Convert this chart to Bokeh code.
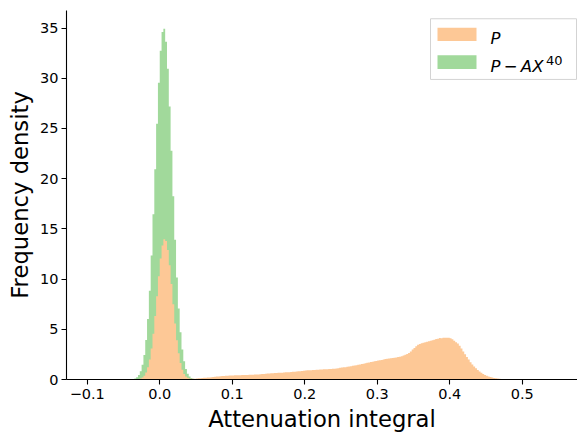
from bokeh.plotting import figure
from bokeh.models import Range1d, FixedTicker, CustomJSTickFormatter
from bokeh.core.properties import value
from bokeh.embed import file_html
from bokeh.resources import INLINE

# Histogram bins (shared width) and first left edge of each series
BIN_WIDTH = 0.0025
P_FIRST_EDGE = -0.035
PAX_FIRST_EDGE = -0.045

# Frequency density of P, one value per bin
p_density = [
    0.01, 0.02, 0.04, 0.09, 0.19, 0.38, 0.69, 1.21, 1.99, 3.09,
    4.55, 6.32, 8.29, 10.28, 12.05, 13.34, 13.97, 13.80, 12.90, 11.39,
    9.50, 7.49, 5.58, 3.92, 2.61, 1.64, 0.97, 0.56, 0.30, 0.17,
    0.10, 0.07, 0.07, 0.08, 0.10, 0.12, 0.13, 0.15, 0.17, 0.18,
    0.20, 0.21, 0.23, 0.25, 0.27, 0.29, 0.31, 0.32, 0.34, 0.36,
    0.37, 0.38, 0.39, 0.40, 0.41, 0.42, 0.42, 0.43, 0.43, 0.44,
    0.45, 0.45, 0.46, 0.47, 0.48, 0.48, 0.49, 0.50, 0.51, 0.53,
    0.55, 0.56, 0.58, 0.60, 0.61, 0.62, 0.63, 0.64, 0.65, 0.66,
    0.67, 0.68, 0.69, 0.71, 0.72, 0.73, 0.74, 0.76, 0.77, 0.79,
    0.81, 0.83, 0.85, 0.88, 0.89, 0.91, 0.92, 0.93, 0.94, 0.95,
    0.96, 0.98, 0.99, 1.00, 1.01, 1.02, 1.03, 1.04, 1.05, 1.06,
    1.08, 1.10, 1.13, 1.16, 1.19, 1.21, 1.23, 1.26, 1.29, 1.32,
    1.36, 1.40, 1.43, 1.46, 1.50, 1.54, 1.58, 1.62, 1.66, 1.70,
    1.74, 1.78, 1.81, 1.85, 1.89, 1.92, 1.95, 1.99, 2.03, 2.06,
    2.09, 2.11, 2.14, 2.17, 2.20, 2.23, 2.27, 2.32, 2.38, 2.46,
    2.54, 2.64, 2.80, 2.98, 3.14, 3.30, 3.45, 3.53, 3.60, 3.66,
    3.71, 3.76, 3.82, 3.87, 3.92, 3.97, 4.03, 4.06, 4.14, 4.10,
    4.16, 4.17, 4.16, 4.15, 4.12, 4.00, 3.86, 3.72, 3.58, 3.35,
    3.08, 2.80, 2.52, 2.25, 1.98, 1.72, 1.50, 1.30, 1.11, 0.95,
    0.80, 0.67, 0.55, 0.45, 0.37, 0.30, 0.24, 0.19, 0.15, 0.12,
    0.09, 0.07, 0.05, 0.04, 0.03, 0.02,
]

# Frequency density of P - AX^40, one value per bin
pax_density = [
    0.004, 0.01, 0.024, 0.054, 0.11, 0.23, 0.45, 0.83, 1.46, 2.45,
    3.93, 6.03, 8.83, 12.34, 16.47, 20.95, 25.47, 29.55, 32.73, 34.60,
    34.93, 33.65, 30.95, 27.18, 22.78, 18.24, 13.92, 10.15, 7.07, 4.70,
    2.98, 1.81, 1.04, 0.58, 0.30, 0.15, 0.07, 0.03,
]

x_ticks = [-0.1, 0.0, 0.1, 0.2, 0.3, 0.4, 0.5]
y_ticks = [0, 5, 10, 15, 20, 25, 30, 35]

P_COLOR = "#fdc896"
PAX_COLOR = "#a1d99b"
FONT = "DejaVu Sans"

# Canvas / frame geometry (pixels)
WIDTH, HEIGHT = 577, 434
BORDER_LEFT, BORDER_RIGHT, BORDER_TOP, BORDER_BOTTOM = 66, 0, 10, 53
X_START, X_END = -0.1286, 0.5762
Y_START, Y_END = 0.0, 36.75


def step_outline(first_edge, heights):
    """Outline of a histogram as one closed polygon (bars share their sides)."""
    xs, ys = [first_edge], [0.0]
    for i, h in enumerate(heights):
        left = first_edge + BIN_WIDTH * i
        right = first_edge + BIN_WIDTH * (i + 1)
        xs += [left, right]
        ys += [h, h]
    xs.append(first_edge + BIN_WIDTH * len(heights))
    ys.append(0.0)
    return xs, ys


def cx(px):
    """Canvas pixel column -> data x."""
    fw = WIDTH - BORDER_LEFT - BORDER_RIGHT
    return X_START + (px - BORDER_LEFT) * (X_END - X_START) / fw


def cy(py):
    """Canvas pixel row (from the top) -> data y."""
    fh = HEIGHT - BORDER_TOP - BORDER_BOTTOM
    return Y_START + (HEIGHT - BORDER_BOTTOM - py) * (Y_END - Y_START) / fh


p = figure(width=WIDTH, height=HEIGHT, output_backend="svg", toolbar_location=None,
           x_range=Range1d(X_START, X_END), y_range=Range1d(Y_START, Y_END),
           min_border_left=BORDER_LEFT, min_border_right=BORDER_RIGHT,
           min_border_top=BORDER_TOP, min_border_bottom=BORDER_BOTTOM)
p.background_fill_color = "white"
p.border_fill_color = "white"
p.outline_line_color = None
p.xgrid.visible = False
p.ygrid.visible = False

pax_xs, pax_ys = step_outline(PAX_FIRST_EDGE, pax_density)
p.patch(x=pax_xs, y=pax_ys, fill_color=PAX_COLOR, line_color=None)
p_xs, p_ys = step_outline(P_FIRST_EDGE, p_density)
p.patch(x=p_xs, y=p_ys, fill_color=P_COLOR, line_color=None)

# Axes
for ax in (p.xaxis[0], p.yaxis[0]):
    ax.axis_line_color = "black"
    ax.axis_line_width = 1.1
    ax.major_tick_line_color = "black"
    ax.major_tick_line_width = 1.1
    ax.major_tick_in = 0
    ax.major_tick_out = 5
    ax.minor_tick_line_color = None
    ax.major_label_text_font = FONT
    ax.major_label_text_font_size = "14.5px"
    ax.major_label_text_color = "black"
    ax.axis_label_text_font = FONT
    ax.axis_label_text_font_size = "22.7px"
    ax.axis_label_text_font_style = "normal"
    ax.axis_label_text_color = "black"

p.xaxis.ticker = FixedTicker(ticks=x_ticks)
p.xaxis.formatter = CustomJSTickFormatter(
    code="return (tick < -1e-9 ? '\u2212' : '') + Math.abs(tick).toFixed(1);")
p.xaxis.major_label_standoff = 4
p.xaxis.axis_label = "Attenuation integral"
p.xaxis.axis_label_standoff = 4

p.yaxis.ticker = FixedTicker(ticks=y_ticks)
p.yaxis.major_label_standoff = 3
p.yaxis.axis_label = "Frequency density"
p.yaxis.axis_label_standoff = 4

# Legend in the upper right corner: frame, swatches, labels with a raised exponent
p.quad(left=cx(430), right=cx(576), top=cy(18.3), bottom=cy(79.3),
       fill_color="white", fill_alpha=0.8, line_color="#d3d3d3", line_width=1)
p.quad(left=[cx(437)] * 2, right=[cx(476)] * 2,
       top=[cy(27.3), cy(55.0)], bottom=[cy(40.7), cy(68.7)],
       fill_color=[P_COLOR, PAX_COLOR], line_color=None)
p.text(x=[cx(490)] * 2, y=[cy(38.3), cy(66.8)],
       text=["P", "P\u2009\u2212\u2009AX"],
       text_font=value(FONT), text_font_size="16.5px", text_font_style="italic",
       text_color="black", text_baseline="alphabetic", text_align="left")
p.text(x=[cx(545.5)], y=[cy(60.0)], text=["40"],
       text_font=value(FONT), text_font_size="13px",
       text_color="black", text_baseline="alphabetic", text_align="left")

open("out.html", "w").write(file_html(p, INLINE))
